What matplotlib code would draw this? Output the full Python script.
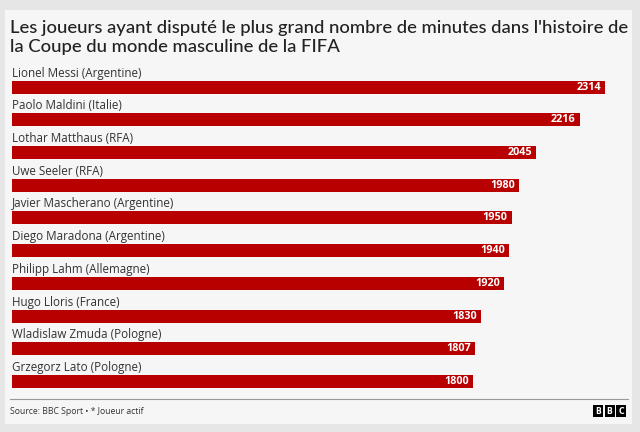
import matplotlib.pyplot as plt
from matplotlib.patches import Rectangle

# Data
players = [
    "Lionel Messi (Argentine)",
    "Paolo Maldini (Italie)",
    "Lothar Matthaus (RFA)",
    "Uwe Seeler (RFA)",
    "Javier Mascherano (Argentine)",
    "Diego Maradona (Argentine)",
    "Philipp Lahm (Allemagne)",
    "Hugo Lloris (France)",
    "Wladislaw Zmuda (Pologne)",
    "Grzegorz Lato (Pologne)",
]
minutes = [2314, 2216, 2045, 1980, 1950, 1940, 1920, 1830, 1807, 1800]

TITLE = ("Les joueurs ayant disputé le plus grand nombre de minutes dans l'histoire de\n"
         "la Coupe du monde masculine de la FIFA")
SOURCE = "Source: BBC Sport \u2022 * Joueur actif"

BAR_COLOR = "#b80000"
CARD_BG = "#f6f6f6"
OUTER_BG = "#e6e6e6"

W, H = 640, 432
fig = plt.figure(figsize=(W / 100, H / 100), dpi=100)
fig.patch.set_facecolor(OUTER_BG)

def px(x, y):
    """pixel coords (top-left origin) -> figure fraction"""
    return x / W, 1 - y / H

# card background
fig.patches.append(Rectangle((5 / W, 1 - 424 / H), 627 / W, 414 / H,
                             transform=fig.transFigure, facecolor=CARD_BG,
                             edgecolor="none", zorder=-5))

# title
tx, ty = px(10, 20)
fig.text(tx, ty, TITLE, ha="left", va="top", fontsize=13.3, color="#222222",
         family="Lato", fontweight="medium", linespacing=1.22)

# bar axes: centres at y=87 (first) and y=381.5 (last)
step = (381.5 - 87) / 9
top = 87 - 0.5 * step
bottom = 381.5 + 0.5 * step
ax = fig.add_axes([12 / W, 1 - bottom / H, 593 / W, (bottom - top) / H], zorder=2)
ax.set_facecolor("none")
ax.set_xlim(0, max(minutes))
ax.set_ylim(len(players) - 0.5, -0.5)
ax.axis("off")

ypos = list(range(len(players)))
ax.barh(ypos, minutes, height=13 / step, color=BAR_COLOR, edgecolor="none")

for i, (name, val) in enumerate(zip(players, minutes)):
    ax.text(0, i - 14 / step, name, ha="left", va="center", fontsize=8.4,
            color="#333333", family="Open Sans", clip_on=False)
    ax.annotate(str(val), (val, i), xytext=(-3, 0), textcoords="offset points",
                ha="right", va="center", fontsize=7.8, color="white",
                fontweight="bold", family="Open Sans")

# footer rule
fig.add_artist(plt.Line2D([10 / W, 628 / W], [1 - 399 / H, 1 - 399 / H],
                          transform=fig.transFigure, color="#999999", lw=0.8))
sx, sy = px(10, 411)
fig.text(sx, sy, SOURCE, ha="left", va="center", fontsize=6.2, color="#333333",
         family="Open Sans")

# BBC blocks
for k, letter in enumerate("BBC"):
    x0 = 593 + k * 11.5
    fig.patches.append(Rectangle((x0 / W, 1 - 417 / H), 10 / W, 12 / H,
                                 transform=fig.transFigure, facecolor="black",
                                 edgecolor="none"))
    fig.text((x0 + 5) / W, 1 - 411 / H, letter, ha="center", va="center",
             fontsize=5.5, color="white", fontweight="bold", family="DejaVu Sans")

fig.savefig("out.png", dpi=100, facecolor=fig.get_facecolor())
